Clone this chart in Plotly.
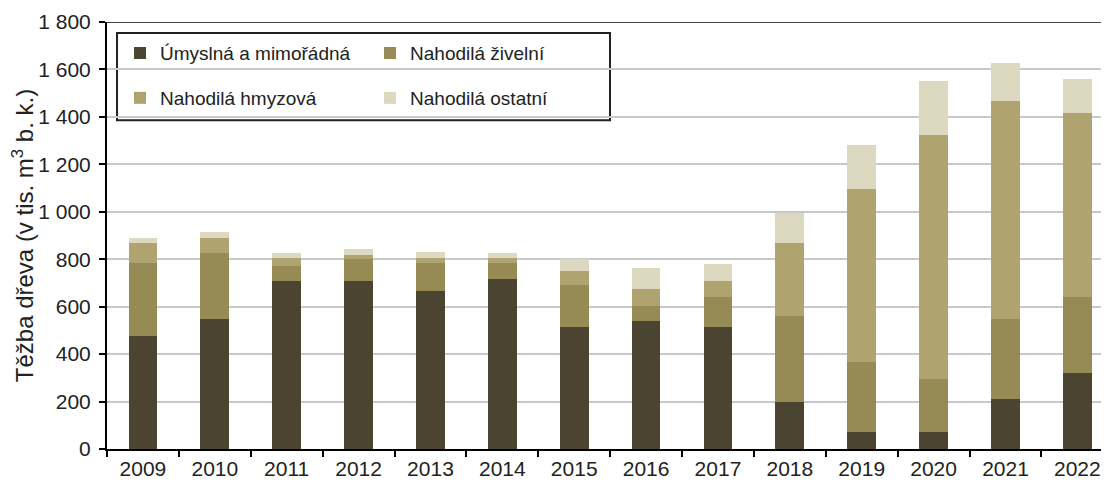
import plotly.graph_objects as go

years = ["2009", "2010", "2011", "2012", "2013", "2014", "2015",
         "2016", "2017", "2018", "2019", "2020", "2021", "2022"]

umyslna = [477, 547, 708, 708, 666, 715, 513, 538, 513, 200, 73, 73, 209, 319]
zivelni = [305, 278, 65, 92, 117, 68, 177, 66, 126, 362, 295, 221, 338, 320]
hmyzova = [85, 66, 33, 16, 23, 23, 59, 69, 68, 305, 727, 1028, 920, 777]
ostatni = [24, 25, 19, 26, 26, 19, 51, 91, 74, 126, 185, 228, 159, 142]

series = [
    ("Úmyslná a mimořádná", umyslna, "#4a4430", "legend"),
    ("Nahodilá živelní", zivelni, "#968b55", "legend"),
    ("Nahodilá hmyzová", hmyzova, "#afa36f", "legend2"),
    ("Nahodilá ostatní", ostatni, "#ddd8c0", "legend2"),
]

font = "Liberation Sans, Arial, sans-serif"
txt = "#222222"

fig = go.Figure()
for name, vals, color, leg in series:
    fig.add_trace(go.Bar(x=years, y=vals, name=name, marker_color=color,
                         marker_line_width=0, legend=leg))

legend_common = dict(orientation="h", x=0.013, xanchor="left", yanchor="middle",
                     font=dict(family=font, size=19, color=txt),
                     entrywidth=205, entrywidthmode="pixels",
                     bgcolor="rgba(0,0,0,0)", borderwidth=0,
                     traceorder="normal", itemclick=False)

# the page body has an 8px margin, so the figure is drawn 8px smaller
fig.update_layout(
    width=1101, height=475,
    margin=dict(l=99, r=0, t=14, b=34),
    barmode="stack", bargap=0.6,
    plot_bgcolor="white", paper_bgcolor="white",
    separators=", ",
    font=dict(family=font, size=20, color=txt),
    showlegend=True,
    legend=dict(legend_common, y=0.927),
    legend2=dict(legend_common, y=0.822),
    xaxis=dict(type="category", range=[-0.5, 13.44], showline=True,
               linecolor="black", linewidth=2,
               ticks="outside", tickson="boundaries", ticklen=6, tickwidth=2,
               tickcolor="black", showgrid=False,
               tickfont=dict(size=21, color=txt)),
    yaxis=dict(range=[0, 1800], dtick=200, showline=True, linecolor="black",
               linewidth=2, ticks="outside", ticklen=6, tickwidth=2,
               tickcolor="black", gridcolor="#c8c8c8", gridwidth=2,
               separatethousands=True, zeroline=False, ticklabelstandoff=4,
               tickfont=dict(size=21, color=txt),
               title=dict(text="Těžba dřeva (v tis. m<sup>3</sup> b. k.)",
                          font=dict(size=24, color=txt), standoff=4)),
    shapes=[
        dict(type="line", xref="paper", yref="y", x0=0, x1=1, y0=1800, y1=1800,
             line=dict(color="#444444", width=2)),
        dict(type="rect", xref="paper", yref="paper", x0=0.010, x1=0.502,
             y0=0.770, y1=0.974, line=dict(color="#222222", width=2),
             fillcolor="white", layer="below"),
    ],
)

fig.write_html("out.html")
